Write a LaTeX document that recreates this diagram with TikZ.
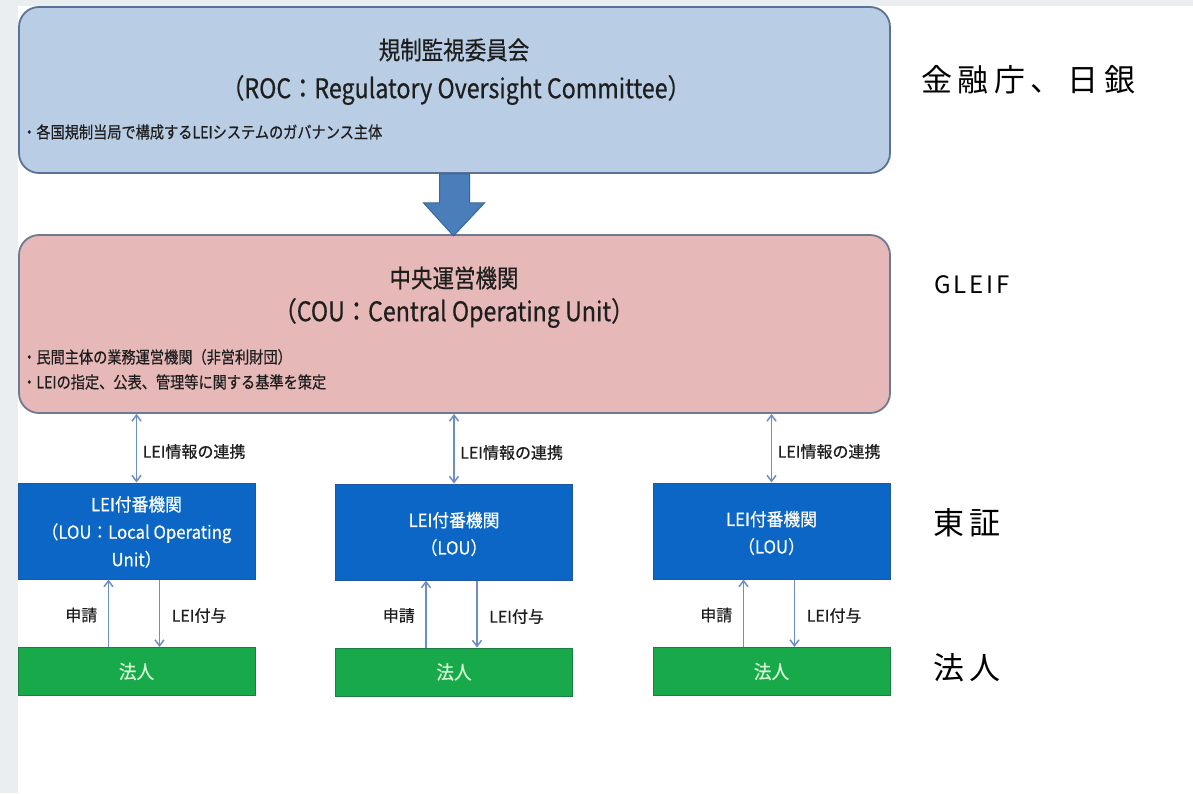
\documentclass[tikz,border=0pt]{standalone}
\usepackage{fontspec}
\setmainfont{Noto Sans CJK JP}
\newfontfamily\boxfont[FakeStretch=0.86,FakeBold=0.5]{Noto Sans CJK JP}
\newfontfamily\loufont[FakeStretch=0.93,FakeBold=0.5]{Noto Sans CJK JP}
\newfontfamily\smallfont[FakeBold=0.6]{Noto Sans CJK JP}
\newfontfamily\labfont[LetterSpace=18]{Noto Sans CJK JP}
\newfontfamily\latlabfont[LetterSpace=12]{Noto Sans CJK JP}
\usetikzlibrary{arrows.meta,calc}
\definecolor{stripgray}{HTML}{EBEEF0}
\definecolor{rocfill}{HTML}{B9CDE5}
\definecolor{rocdraw}{HTML}{5A7297}
\definecolor{coufill}{HTML}{E6B8B7}
\definecolor{coudraw}{HTML}{6D7A92}
\definecolor{bigarrow}{HTML}{4A7EBB}
\definecolor{bigarrowdraw}{HTML}{3A6598}
\definecolor{loufill}{HTML}{0B66C6}
\definecolor{loudraw}{HTML}{2356A0}
\definecolor{corpfill}{HTML}{17A94A}
\definecolor{corpdraw}{HTML}{1C7D45}
\definecolor{corptext}{HTML}{D4FAD4}
\definecolor{connc}{HTML}{6D8EC4}
\definecolor{txt}{HTML}{1E1E1E}
\tikzset{
  bigbox/.style={rounded corners=20pt, line width=1.8pt, inner sep=0pt},
  loubox/.style={fill=loufill, draw=loudraw, line width=1pt, minimum width=237pt, minimum height=96pt, inner sep=0pt},
  corpbox/.style={fill=corpfill, draw=corpdraw, line width=1pt, minimum width=237pt, minimum height=48pt, inner sep=0pt, text=corptext, font=\loufont\fontsize{19}{22}\selectfont},
  conn/.style={draw=connc, line width=1.5pt, -{Straight Barb[length=6pt,width=9pt]}},
  dconn/.style={draw=connc, line width=1.5pt, {Straight Barb[length=6pt,width=9pt]}-{Straight Barb[length=6pt,width=9pt]}},
  boxtitle/.style={text=txt, inner sep=0pt, font=\boxfont\fontsize{25}{28}\selectfont},
  boxsub/.style={text=txt, inner sep=0pt, font=\boxfont\fontsize{27}{30}\selectfont},
  bullet/.style={text=txt, inner sep=0pt, anchor=west, font=\boxfont\fontsize{16.5}{19}\selectfont},
  loutext/.style={text=white, inner sep=0pt, align=center, font=\loufont\fontsize{18}{27.5}\selectfont},
  small/.style={text=txt, inner sep=0pt, font=\smallfont\fontsize{16}{18}\selectfont},
  sidelab/.style={text=black, inner sep=0pt, anchor=west, font=\labfont\fontsize{31}{36}\selectfont},
}
\begin{document}
\begin{tikzpicture}[x=1pt,y=-1pt]
\useasboundingbox (0,0) rectangle (1193,793);
\fill[white] (0,0) rectangle (1193,793);
\fill[stripgray] (0,0) rectangle (18,793);
\fill[stripgray] (0,0) rectangle (1193,6);

% ROC box
\node[bigbox, fill=rocfill, draw=rocdraw, minimum width=871pt, minimum height=166pt] (roc) at (454.5,90) {};
\node[boxtitle] (roct) at (454,50) {規制監視委員会};
\node[boxsub] (rocs) at (456,90) {（ROC：Regulatory Oversight Committee）};
\node[bullet] (rocb) at (22,132) {・各国規制当局で構成するLEIシステムのガバナンス主体};

% COU box
\node[bigbox, fill=coufill, draw=coudraw, minimum width=871pt, minimum height=178pt] (cou) at (454.5,324) {};
\node[boxtitle] (cout) at (454,278) {中央運営機関};
\node[boxsub] (cous) at (454,313) {（COU：Central Operating Unit）};
\node[bullet] (coub1) at (22,357) {・民間主体の業務運営機関（非営利財団）};
\node[bullet] (coub2) at (22,382) {・LEIの指定、公表、管理等に関する基準を策定};

% big arrow
\coordinate (ba) at (roc.south);
\filldraw[fill=bigarrow, draw=bigarrowdraw, line width=1pt]
  ($(ba)+(-15,0)$) -- ($(ba)+(15,0)$) -- ($(ba)+(15,29)$) -- ($(ba)+(30,29)$)
  -- ($(ba)+(-1,62)$) -- ($(ba)+(-31,29)$) -- ($(ba)+(-15,29)$) -- cycle;

% LOU boxes
\node[loubox] (lou1) at (136.5,531) {};
\node[loutext] (lou1t) at (136.5,532) {LEI付番機関\\（LOU：Local Operating\\Unit）};
\node[loubox] (lou2) at (454,532) {};
\node[loutext] (lou2t) at (454,534) {LEI付番機関\\（LOU）};
\node[loubox] (lou3) at (771.5,531) {};
\node[loutext] (lou3t) at (771.5,533) {LEI付番機関\\（LOU）};

% corporations
\node[corpbox] (corp1) at (136.5,671.5) {法人};
\node[corpbox] (corp2) at (454,672) {法人};
\node[corpbox] (corp3) at (771.5,671.5) {法人};

% connectors
\foreach \i in {1,2,3} {
  \draw[dconn] (lou\i.north) -- (lou\i.north |- cou.south);
  \node[small, anchor=west] (link\i) at ($(lou\i.north)+(6,-31)$) {LEI情報の連携};
  \draw[conn] ($(corp\i.north)+(-28,0)$) coordinate (up\i) -- (up\i |- lou\i.south);
  \draw[conn] ($(lou\i.south)+(23,0)$) coordinate (dn\i) -- (dn\i |- corp\i.north);
  \node[small, anchor=east] (app\i) at ($(up\i)+(-11,-32)$) {申請};
  \node[small, anchor=west] (give\i) at ($(dn\i)+(12,36)$) {LEI付与};
}

% side labels
\node[sidelab] (s1) at (921,80) {金融庁、日銀};
\node[sidelab, font=\latlabfont\fontsize{24}{28}\selectfont] (s2) at (934,285) {GLEIF};
\node[sidelab] (s3) at (933,523) {東証};
\node[sidelab] (s4) at (933,668) {法人};
\end{tikzpicture}
\end{document}
